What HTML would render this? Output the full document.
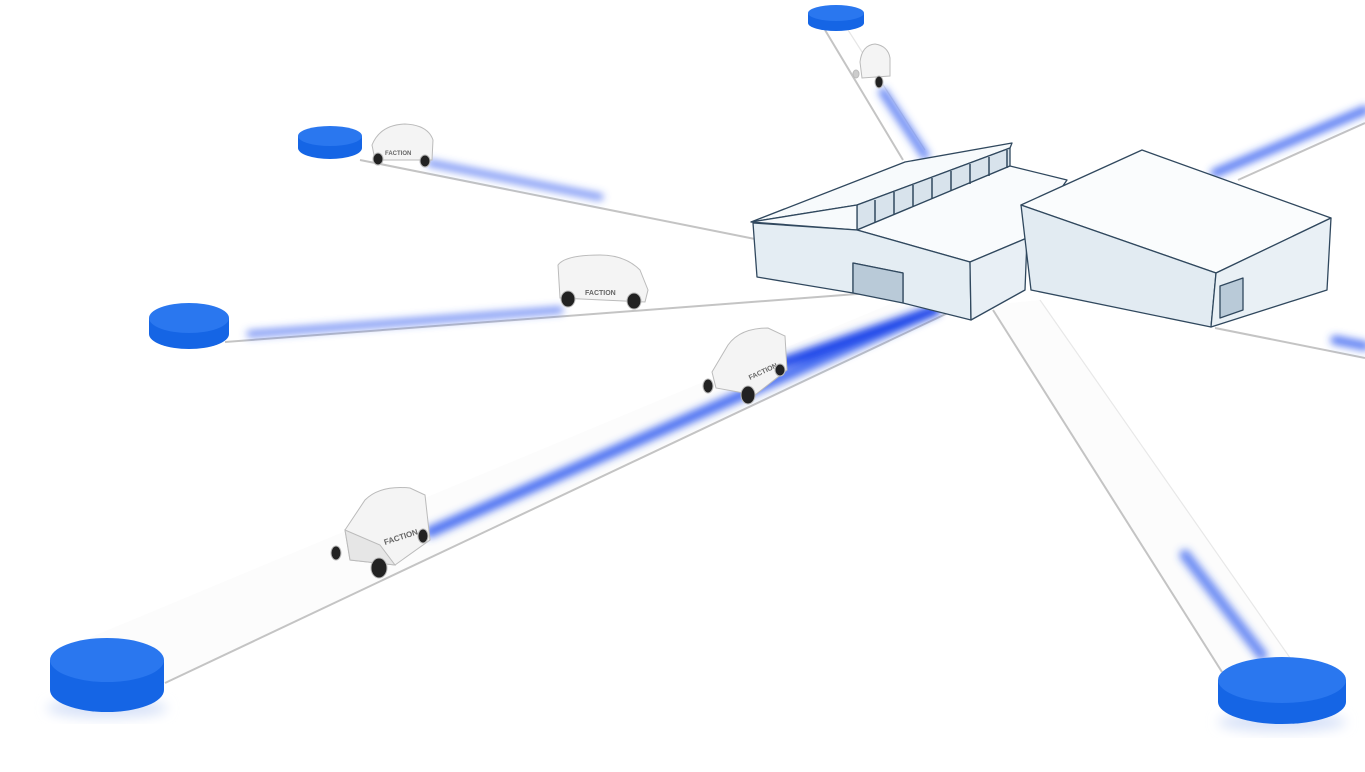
<!DOCTYPE html>
<html><head><meta charset="utf-8"><style>
html,body{margin:0;padding:0;background:#fff;width:1365px;height:772px;overflow:hidden}
</style></head><body>
<svg width="1365" height="772" viewBox="0 0 1365 772" xmlns="http://www.w3.org/2000/svg" font-family="Liberation Sans, sans-serif">
<defs>
<filter id="blur" x="-20%" y="-50%" width="140%" height="200%"><feGaussianBlur stdDeviation="4"/></filter>
<filter id="sh" x="-30%" y="-30%" width="160%" height="160%"><feGaussianBlur stdDeviation="6"/></filter>
</defs>
<rect width="1365" height="772" fill="#fff"/>

<g fill="#fcfcfc" stroke="none">
  <polygon points="60,650 165,683 950,312 900,300"/>
  <polygon points="990,305 1040,300 1295,665 1222,672"/>
</g>
<g stroke="#c4c4c4" stroke-width="2" fill="none">
  <line x1="825" y1="30" x2="903" y2="160"/>
  <line x1="848" y1="30" x2="925" y2="150" stroke="#e6e6e6" stroke-width="1.2"/>
  <line x1="360" y1="160" x2="760" y2="240"/>
  <line x1="225" y1="342" x2="870" y2="293"/>
  <line x1="165" y1="683" x2="950" y2="312"/>
  <line x1="993" y1="310" x2="1222" y2="672"/>
  <line x1="1040" y1="300" x2="1295" y2="665" stroke="#e8e8e8" stroke-width="1.2"/>
  <line x1="1215" y1="328" x2="1365" y2="358"/>
  <line x1="1238" y1="180" x2="1365" y2="123"/>
</g>

<g filter="url(#blur)" stroke-linecap="round" fill="none">
  <line x1="430" y1="532" x2="935" y2="310" stroke="#2f5bf0" stroke-width="11" opacity="0.85"/>
  <line x1="770" y1="367" x2="935" y2="310" stroke="#1f45e8" stroke-width="11"/>
  <line x1="250" y1="334" x2="560" y2="310" stroke="#3a63f0" stroke-width="7" opacity="0.7"/>
  <line x1="430" y1="163" x2="600" y2="197" stroke="#3a63f0" stroke-width="7" opacity="0.7"/>
  <line x1="883" y1="92" x2="925" y2="155" stroke="#3a63f0" stroke-width="9" opacity="0.75"/>
  <line x1="1215" y1="173" x2="1365" y2="110" stroke="#2f5bf0" stroke-width="9" opacity="0.8"/>
  <line x1="1335" y1="340" x2="1365" y2="346" stroke="#2f5bf0" stroke-width="9" opacity="0.8"/>
  <line x1="1185" y1="555" x2="1262" y2="655" stroke="#2f5bf0" stroke-width="11" opacity="0.7"/>
</g>

<g>
  <ellipse cx="107" cy="708" rx="60" ry="10" fill="#d8e2f8" filter="url(#sh)"/>
  <path d="M50,660 v30 a57,22 0 0 0 114,0 v-30 z" fill="#1565e5"/>
  <ellipse cx="107" cy="660" rx="57" ry="22" fill="#2a77ef"/>

  <ellipse cx="1282" cy="722" rx="64" ry="10" fill="#d8e2f8" filter="url(#sh)"/>
  <path d="M1218,680 v22 a64,22 0 0 0 128,0 v-22 z" fill="#1565e5"/>
  <ellipse cx="1282" cy="680" rx="64" ry="23" fill="#2a77ef"/>

  <path d="M149,318 v16 a40,15 0 0 0 80,0 v-16 z" fill="#1565e5"/>
  <ellipse cx="189" cy="318" rx="40" ry="15" fill="#2a77ef"/>

  <path d="M298,136 v12 a32,11 0 0 0 64,0 v-12 z" fill="#1565e5"/>
  <ellipse cx="330" cy="136" rx="32" ry="10" fill="#2a77ef"/>

  <path d="M808,13 v10 a28,8 0 0 0 56,0 v-10 z" fill="#1565e5"/>
  <ellipse cx="836" cy="13" rx="28" ry="8" fill="#2a77ef"/>
</g>

<g stroke="#bbb" stroke-width="1">
  <path d="M345,530 L365,500 Q380,485 410,488 L425,495 L430,540 L395,565 L350,560 Z" fill="#f4f4f4"/>
  <path d="M345,530 L380,545 L395,565 L350,560 Z" fill="#e6e6e6"/>
  <text x="385" y="545" font-size="8" fill="#666" stroke="none" font-weight="bold" transform="rotate(-18 385 545)">FACTION</text>
  <ellipse cx="379" cy="568" rx="8" ry="10" fill="#222"/><ellipse cx="336" cy="553" rx="5" ry="7" fill="#222"/><ellipse cx="423" cy="536" rx="5" ry="7" fill="#222"/>

  <path d="M712,372 L728,345 Q740,328 768,328 L785,336 L787,370 L755,395 L716,388 Z" fill="#f4f4f4"/>
  <text x="750" y="380" font-size="7" fill="#666" stroke="none" font-weight="bold" transform="rotate(-25 750 380)">FACTION</text>
  <ellipse cx="748" cy="395" rx="7" ry="9" fill="#222"/><ellipse cx="708" cy="386" rx="5" ry="7" fill="#222"/><ellipse cx="780" cy="370" rx="5" ry="6" fill="#222"/>

  <path d="M558,265 Q565,255 600,255 Q625,255 640,270 L648,290 L645,302 L560,298 Z" fill="#f4f4f4"/>
  <text x="585" y="295" font-size="7" fill="#666" stroke="none" font-weight="bold">FACTION</text>
  <ellipse cx="568" cy="299" rx="7" ry="8" fill="#222"/><ellipse cx="634" cy="301" rx="7" ry="8" fill="#222"/>

  <path d="M372,145 Q380,125 405,124 Q428,125 433,140 L432,160 L375,160 Z" fill="#f4f4f4"/>
  <text x="385" y="155" font-size="6" fill="#666" stroke="none" font-weight="bold">FACTION</text>
  <ellipse cx="378" cy="159" rx="5" ry="6" fill="#222"/><ellipse cx="425" cy="161" rx="5" ry="6" fill="#222"/>

  <path d="M860,62 Q862,45 875,44 Q888,46 890,58 L890,76 L862,78 Z" fill="#f4f4f4"/>
  <ellipse cx="879" cy="82" rx="4" ry="6" fill="#222"/><ellipse cx="856" cy="74" rx="3" ry="4" fill="#ccc"/>
</g>

<g stroke="#30485e" stroke-width="1.3" stroke-linejoin="round">
  <polygon points="751,222 905,162 1012,143 1010,148 857,205" fill="#f7fafc"/>
  <polygon points="857,205 1010,148 1010,166 857,230" fill="#d8e3ec"/>
  <polygon points="857,230 1010,166 1067,180 1027,238 970,262" fill="#f9fbfd"/>
  <polygon points="751,222 857,205 857,230" fill="#f7fafc"/>
  <polygon points="753,223 857,230 970,262 971,320 903,303 903,273 853,263 853,293 757,277" fill="#e4edf3"/>
  <polygon points="853,263 903,273 903,303 853,293" fill="#b9cad8"/>
  <polygon points="970,262 1027,238 1025,290 971,320" fill="#e8eff5"/>
  <polygon points="1021,205 1142,150 1331,218 1216,273" fill="#fafcfd"/>
  <polygon points="1021,205 1216,273 1211,327 1031,290" fill="#e2ebf2"/>
  <polygon points="1216,273 1331,218 1327,290 1211,327" fill="#e9f0f5"/>
  <polygon points="1220,286 1243,278 1243,310 1220,318" fill="#b9cad8"/>
</g>
<g stroke="#30485e" stroke-width="1.5">
  <line x1="875" y1="200" x2="875" y2="222"/><line x1="894" y1="192" x2="894" y2="214"/>
  <line x1="913" y1="185" x2="913" y2="206"/><line x1="932" y1="178" x2="932" y2="199"/>
  <line x1="951" y1="171" x2="951" y2="191"/><line x1="970" y1="164" x2="970" y2="184"/>
  <line x1="989" y1="157" x2="989" y2="176"/><line x1="1007" y1="150" x2="1007" y2="168"/>
</g>
</svg>
</body></html>
